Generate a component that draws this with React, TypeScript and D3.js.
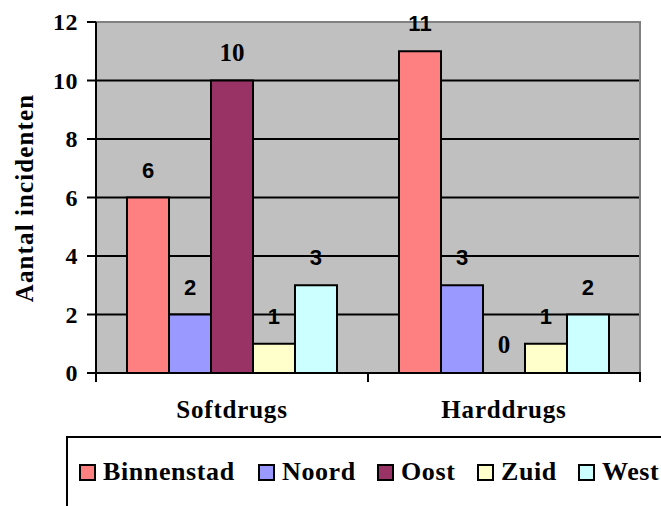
import React from "react";
import * as d3 from "d3";

const categories = ["Softdrugs", "Harddrugs"];
const series = ["Binnenstad", "Noord", "Oost", "Zuid", "West"];
const colors = ["#FF8080", "#9999FF", "#993366", "#FFFFCC", "#CCFFFF"];
const softdrugs = [6, 2, 10, 1, 3];
const harddrugs = [11, 3, 0, 1, 2];
const yTicks = [0, 2, 4, 6, 8, 10, 12];
const yTitle = "Aantal incidenten";

const W = 661;
const H = 506;
const plot = { left: 96, right: 640, top: 22, bottom: 373 };
const SERIF = "'Liberation Serif', 'Times New Roman', serif";
const SANS = "'Liberation Sans', Arial, sans-serif";

export default function App() {
  const values = [softdrugs, harddrugs];
  const x0 = d3.scaleBand<string>().domain(categories).range([plot.left, plot.right]).padding(0);
  const bw = x0.bandwidth();
  const x1 = d3.scaleBand<string>().domain(series).range([bw * 0.114, bw * 0.886]).padding(0);
  const y = d3.scaleLinear().domain([0, 12]).range([plot.bottom, plot.top]);

  const legendX = [80, 259, 378, 478, 579];

  return (
    <svg width={W} height={H} style={{ position: "absolute", left: 0, top: 0 }}>
      <rect x={0} y={0} width={W} height={H} fill="#fff" />
      <rect x={plot.left} y={plot.top} width={plot.right - plot.left} height={plot.bottom - plot.top} fill="#C0C0C0" />
      {yTicks.filter((t) => t > 0 && t < 12).map((t) => (
        <line key={t} x1={plot.left} x2={plot.right} y1={y(t)} y2={y(t)} stroke="#000" strokeWidth={2} />
      ))}
      <line x1={plot.left} x2={plot.right + 1} y1={plot.top} y2={plot.top} stroke="#808080" strokeWidth={2} />
      <line x1={plot.right} x2={plot.right} y1={plot.top} y2={plot.bottom} stroke="#808080" strokeWidth={2} />
      {categories.map((c, ci) =>
        series.map((s, si) => {
          const v = values[ci][si];
          const bx = (x0(c) as number) + (x1(s) as number);
          const w = x1.bandwidth();
          const isSerif = s === "Oost";
          return (
            <g key={c + s}>
              {v > 0 && (
                <rect x={bx} y={y(v)} width={w} height={y(0) - y(v)} fill={colors[si]} stroke="#000" strokeWidth={2} />
              )}
              <text
                x={bx + w / 2}
                y={y(v) - 20}
                textAnchor="middle"
                fontFamily={isSerif ? SERIF : SANS}
                fontWeight="bold"
                fontSize={isSerif ? 25 : 22}
                fill="#000"
              >
                {v}
              </text>
            </g>
          );
        })
      )}
      <line x1={plot.left} x2={plot.left} y1={plot.top} y2={plot.bottom + 9} stroke="#000" strokeWidth={2} />
      <line x1={plot.left - 9} x2={plot.right + 1} y1={plot.bottom} y2={plot.bottom} stroke="#000" strokeWidth={2} />
      {yTicks.map((t) => (
        <g key={"t" + t}>
          <line x1={plot.left - 9} x2={plot.left} y1={y(t)} y2={y(t)} stroke="#000" strokeWidth={2} />
          <text x={78} y={y(t) + 8} textAnchor="end" fontFamily={SERIF} fontWeight="bold" fontSize={24} letterSpacing={0.5} fill="#000">
            {t}
          </text>
        </g>
      ))}
      {[...categories.map((c) => x0(c) as number), plot.right].map((xx, i) => (
        <line key={"xt" + i} x1={xx} x2={xx} y1={plot.bottom} y2={plot.bottom + 9} stroke="#000" strokeWidth={2} />
      ))}
      {categories.map((c) => (
        <text key={"xl" + c} x={(x0(c) as number) + bw / 2} y={418} textAnchor="middle" fontFamily={SERIF} fontWeight="bold" fontSize={25} letterSpacing={0.8} fill="#000">
          {c}
        </text>
      ))}
      <text transform="translate(33,198) rotate(-90)" textAnchor="middle" fontFamily={SERIF} fontWeight="bold" fontSize={25} letterSpacing={1.1} fill="#000">
        {yTitle}
      </text>
      <rect x={67} y={437} width={700} height={200} fill="#fff" stroke="#000" strokeWidth={2} />
      {series.map((s, i) => (
        <g key={"lg" + s}>
          <rect x={legendX[i]} y={465} width={15} height={15} fill={colors[i]} stroke="#000" strokeWidth={2} />
          <text x={legendX[i] + 23} y={480} fontFamily={SERIF} fontWeight="bold" fontSize={26} letterSpacing={0.6} fill="#000">
            {s}
          </text>
        </g>
      ))}
    </svg>
  );
}
